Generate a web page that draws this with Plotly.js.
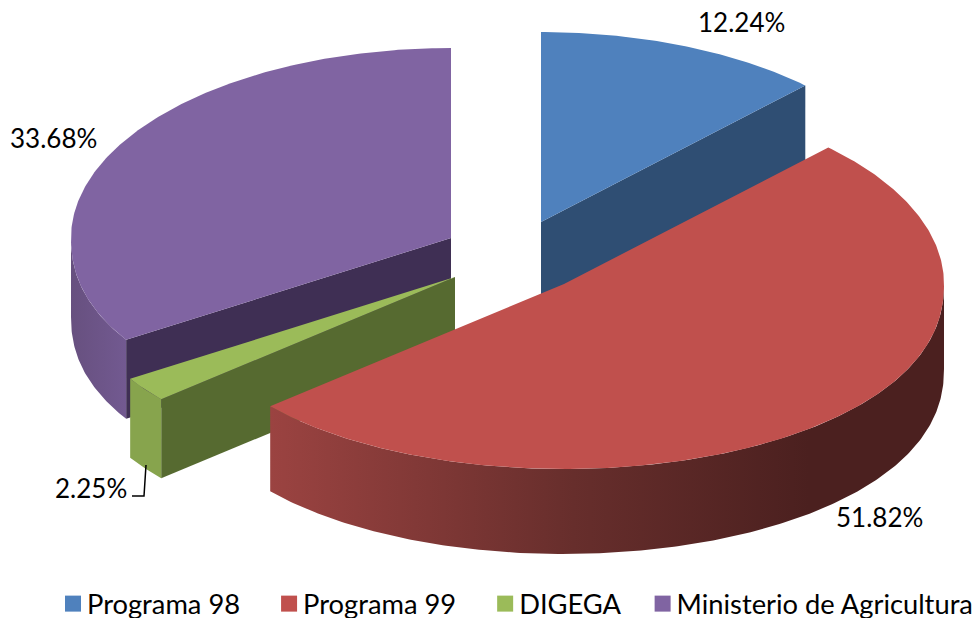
<!DOCTYPE html>
<html><head><meta charset="utf-8">
<script src="https://cdn.plot.ly/plotly-3.0.1.min.js"></script>
<style>html,body{margin:0;padding:0;background:#fff}#chart{width:975px;height:618px}</style>
</head><body><div id="chart"></div>
<script>
const categories = ["Programa 98", "Programa 99", "DIGEGA", "Ministerio de Agricultura"];
const values = [12.24, 51.82, 2.25, 33.68];
const valueLabels = ["12.24%", "51.82%", "2.25%", "33.68%"];
const topColors = ["#4f81bd", "#c0504d", "#9bbb59", "#8064a2"];
const innerColors = ["#2f4e73", "#7f3330", "#566a30", "#3f2f54"];

// Projection of the exploded tilted pie, in chart pixels
const radiusX = 380, radiusBack = 190, radiusFront = 185, frontPower = 0.91;
const depths = [83, 85, 79, 79];
const apexX = [541, 564, 455, 451];
const apexY = [222, 284, 277, 238];
const labelX = [741, 879, 91, 53];
const labelY = [22, 517, 488, 138];
const plotBottom = 558;

const total = values.reduce((a, b) => a + b, 0);
let cum = 0;
const angles = values.map(v => { const s = cum; cum += v / total * 2 * Math.PI; return [s, cum]; });
const rim = (i, a, dy) => {
  const c = Math.cos(a);
  const off = c >= 0 ? -radiusBack * c : radiusFront * Math.pow(-c, frontPower);
  return [apexX[i] + radiusX * Math.sin(a), apexY[i] + off + (dy || 0)];
};
function arc(i, a0, a1, dy) {
  const n = Math.max(2, Math.ceil(Math.abs(a1 - a0) / 0.01)), pts = [];
  for (let k = 0; k <= n; k++) pts.push(rim(i, a0 + (a1 - a0) * k / n, dy));
  return pts;
}
function poly(pts, fill, extra) {
  const t = {type: "scatter", mode: "lines", x: pts.map(p => p[0]), y: pts.map(p => p[1]),
    fill: "toself", fillcolor: fill, line: {width: 0}, hoverinfo: "skip", showlegend: false};
  return Object.assign(t, extra || {});
}
const topFace = i => poly([[apexX[i], apexY[i]], ...arc(i, angles[i][0], angles[i][1]), [apexX[i], apexY[i]]], topColors[i]);
const edgeWall = (i, a) => {
  const r = rim(i, a), d = depths[i];
  return poly([[apexX[i], apexY[i]], r, [r[0], r[1] + d], [apexX[i], apexY[i] + d], [apexX[i], apexY[i]]], innerColors[i]);
};
const outerWall = (i, a0, a1, extra) => {
  const up = arc(i, a0, a1), down = arc(i, a1, a0, depths[i]);
  return poly([...up, ...down, up[0]], "#888", extra);
};
const grad = (x0, x1, stops) => ({fillgradient: {type: "horizontal", start: x0, stop: x1, colorscale: stops}});

const traces = [
  outerWall(3, angles[3][0], 1.5 * Math.PI, grad(71, 130, [[0, "#67507f"], [1, "#735a92"]])),
  edgeWall(3, angles[3][0]),
  topFace(3),
  edgeWall(0, angles[0][1]),
  topFace(0),
  edgeWall(2, angles[2][0]),
  outerWall(2, angles[2][0], angles[2][1], {fillcolor: "#87a44d"}),
  topFace(2),
  outerWall(1, Math.PI / 2, angles[1][1], grad(270, 944, [[0, "#9b4341"], [0.45, "#672e2c"], [0.8, "#4b201f"], [1, "#4b201f"]])),
  topFace(1)
];
categories.forEach((c, i) => traces.push({type: "scatter", mode: "markers", x: [null], y: [null], name: c,
  marker: {symbol: "square", size: 17, color: topColors[i]}, hoverinfo: "skip"}));

const font = {family: "Lato, 'Open Sans', sans-serif", size: 26, color: "#000"};
const layout = {
  width: 975, height: 618, margin: {l: 0, r: 0, t: 0, b: 618 - plotBottom},
  paper_bgcolor: "#fff", plot_bgcolor: "#fff", font: font,
  xaxis: {range: [0, 975], visible: false, fixedrange: true},
  yaxis: {range: [plotBottom, 0], visible: false, fixedrange: true},
  legend: {orientation: "h", x: 0.0305, y: 0.0625, xref: "paper", yref: "container", xanchor: "left", yanchor: "top",
    font: Object.assign({}, font, {size: 27.3}), itemwidth: 48, bgcolor: "rgba(0,0,0,0)"},
  annotations: valueLabels.map((t, i) => ({xref: "x", yref: "y", x: labelX[i], y: labelY[i], text: t,
    showarrow: false, font: font, xanchor: "center", yanchor: "middle"})),
  shapes: [{type: "path", xref: "x", yref: "y", path: "M146,465 L144,496 L132,496", line: {color: "#000", width: 1.5}}],
  showlegend: true
};
const shiftBy = (el, dx) => {
  const m = /translate\(([-\d.]+)[ ,]+([-\d.]+)\)/.exec(el.getAttribute("transform") || "");
  if (m) el.setAttribute("transform", "translate(" + (parseFloat(m[1]) + dx) + "," + m[2] + ")");
};
Plotly.newPlot("chart", traces, layout, {displayModeBar: false, staticPlot: true}).then(() => {
  document.querySelectorAll(".legend .legendsymbols").forEach(g => g.setAttribute("transform", "translate(15,0)"));
  shiftBy(document.querySelector(".legend"), 11);
  const entries = document.querySelectorAll(".legend .traces");
  if (entries.length === 4) shiftBy(entries[3], -8);
  document.querySelectorAll(".legend [clip-path]").forEach(e => e.removeAttribute("clip-path"));
});
</script></body></html>
